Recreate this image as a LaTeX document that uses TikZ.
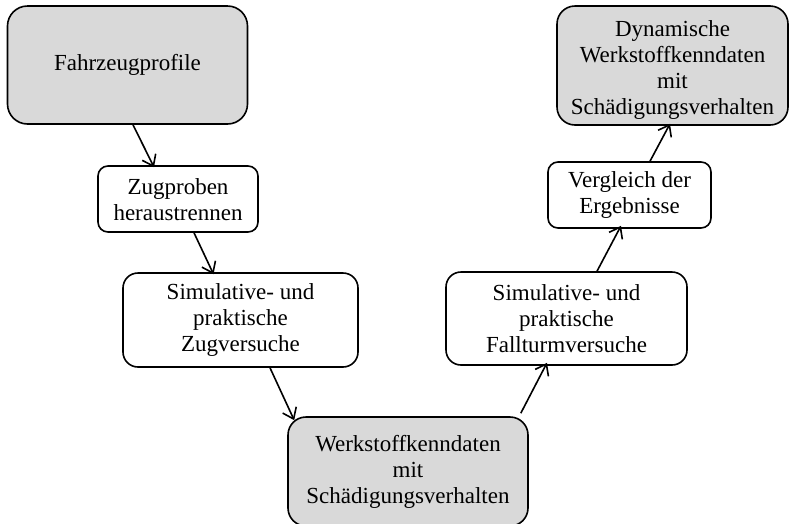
\documentclass[tikz,border=0pt]{standalone}
\usepackage{fontspec}
\setmainfont{Liberation Serif}
\usetikzlibrary{arrows.meta}
\definecolor{boxgray}{HTML}{D9D9D9}
% shift a text block vertically while keeping its original extent
\newcommand{\shiftedlines}[2]{\raisebox{#1}[\height][\depth]{\begin{tabular}{@{}c@{}}#2\end{tabular}}}
\begin{document}
\begin{tikzpicture}[x=1pt,y=-1pt,
  stepbox/.style={draw=black, line width=1.6pt, align=center, inner sep=0pt,
    font=\fontsize{23}{26}\selectfont},
  keybox/.style={stepbox, fill=boxgray},
  flow/.style={draw=black, line width=1.6pt, -{Straight Barb[length=10pt,width=15pt,line width=1.6pt]}}]
\useasboundingbox (0,0) rectangle (790,523);
\clip (0,0) rectangle (790,523);

% process steps
\node[keybox, rounded corners=20pt, minimum width=240pt, minimum height=118pt]
  (n1) at (127.5,65) {Fahrzeugprofile};
\node[stepbox, rounded corners=10pt, minimum width=160pt, minimum height=66pt]
  (n2) at (178,199) {\shiftedlines{-3pt}{Zugproben\\heraustrennen}};
\node[stepbox, rounded corners=15pt, minimum width=235pt, minimum height=94pt]
  (n3) at (240.5,320) {Simulative- und\\praktische\\Zugversuche};
\node[keybox, rounded corners=18pt, minimum width=240pt, minimum height=109pt]
  (n4) at (408,471.5) {Werkstoffkenndaten\\mit\\Schädigungsverhalten};
\node[stepbox, rounded corners=15pt, minimum width=241pt, minimum height=93pt]
  (n5) at (566.5,318.5) {Simulative- und\\praktische\\Fallturmversuche};
\node[stepbox, rounded corners=10pt, minimum width=163pt, minimum height=66pt]
  (n6) at (629.5,195) {Vergleich der\\Ergebnisse};
\node[keybox, rounded corners=18pt, minimum width=231pt, minimum height=119pt]
  (n7) at (672.5,65.5) {\shiftedlines{-5pt}{Dynamische\\Werkstoffkenndaten\\mit\\Schädigungsverhalten}};

% connectors
\draw[flow] ([xshift=5.5pt]n1.south) -- ([xshift=-24pt,yshift=-2pt]n2.north);
\draw[flow] ([xshift=16pt]n2.south) -- ([xshift=-27pt,yshift=-2pt]n3.north);
\draw[flow] ([xshift=29.5pt]n3.south) -- ([xshift=7pt,yshift=-4pt]n4.north west);
\draw[flow] ([xshift=-8pt,yshift=3pt]n4.north east) -- ([xshift=-19.5pt,yshift=3pt]n5.south);
\draw[flow] ([xshift=30.5pt]n5.north) -- ([xshift=-8.5pt,yshift=3pt]n6.south);
\draw[flow] ([xshift=20.5pt]n6.north) -- ([xshift=-2.5pt,yshift=2pt]n7.south);
\end{tikzpicture}
\end{document}
